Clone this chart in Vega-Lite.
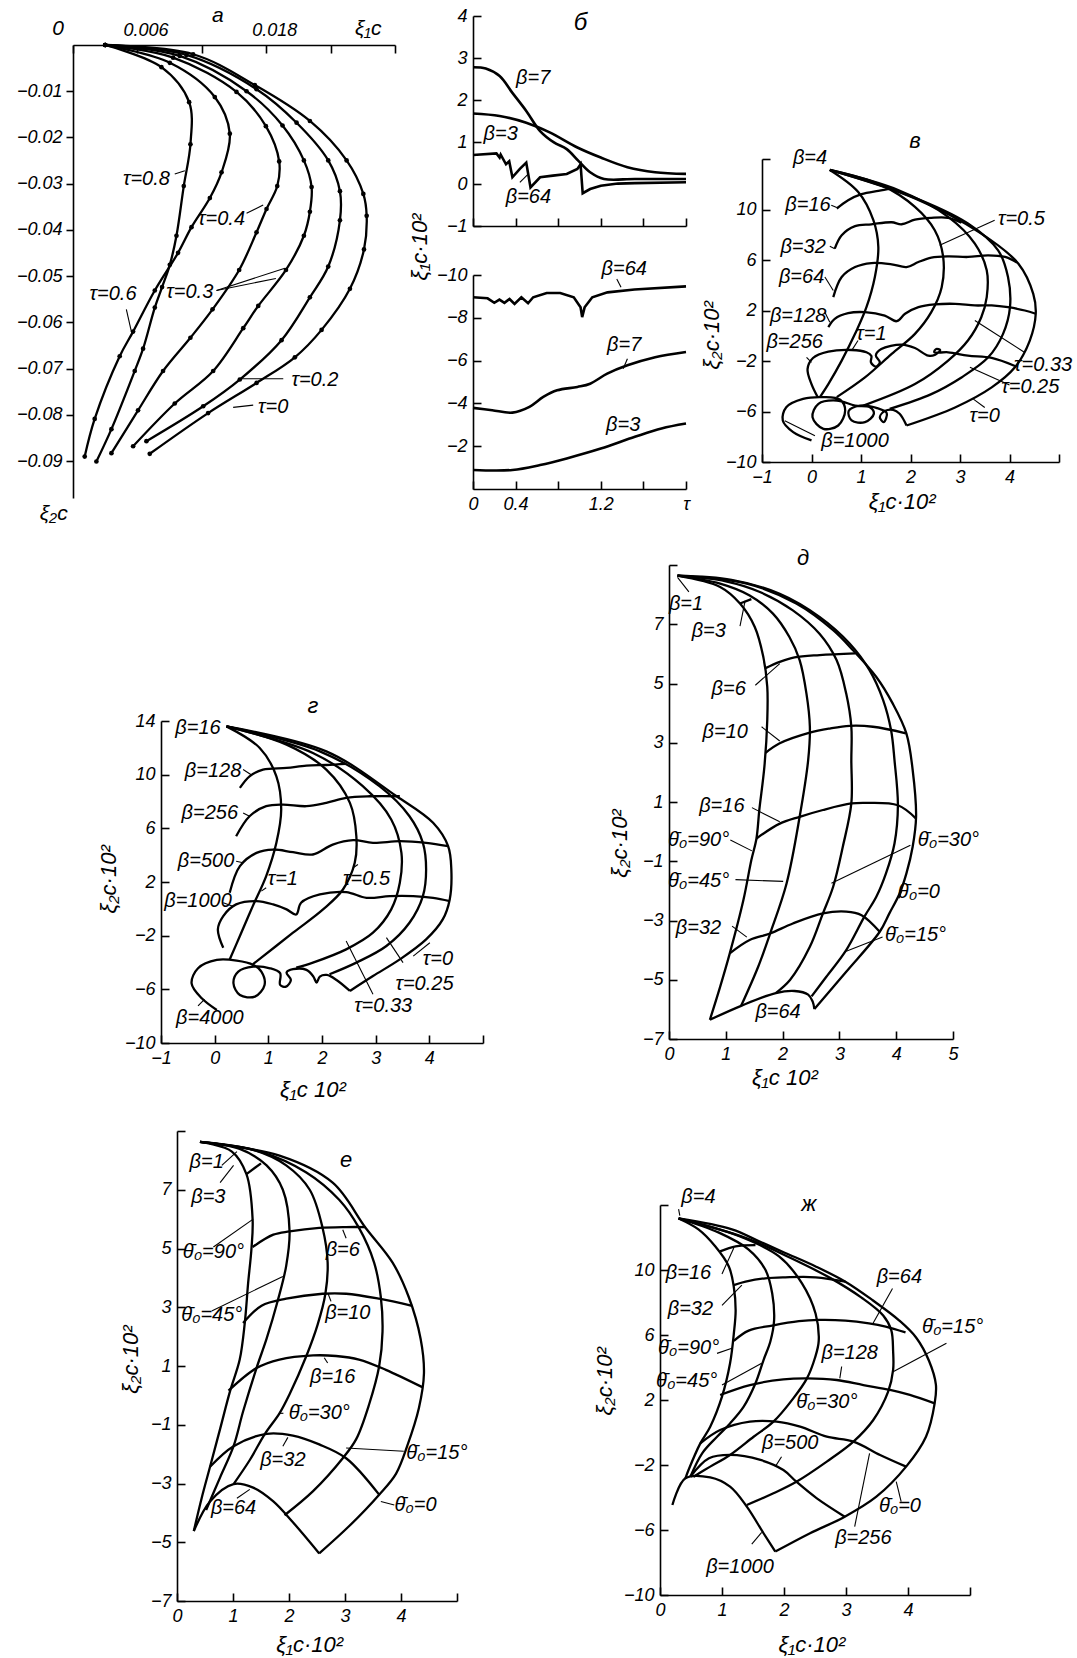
{
"$schema":"https://vega.github.io/schema/vega-lite/v6.json",
"background":"white",
"width":1077,"height":1658,
"autosize":{"type":"none"},
"padding":0,
"config":{
 "view":{"stroke":null},
 "axis":{"domainColor":"#000","domainWidth":1.6,"tickColor":"#000","tickWidth":1.6,"tickSize":-8,"labelColor":"#000","labelFont":"Liberation Sans","labelFontStyle":"italic","labelFontSize":18,"labelPadding":14,"grid":false,"labelOverlap":false,"labelFlush":false,"labelBound":false},
 "line":{"color":"#000","strokeWidth":2.3,"interpolate":"catmull-rom"},
 "rule":{"color":"#000","strokeWidth":1.1},
 "text":{"font":"Liberation Sans","fontStyle":"italic","fontSize":20,"color":"#000"},
 "circle":{"color":"#000","opacity":1,"size":22}
},
"datasets":{
"a":[
{"s":"t08","x":0.003,"y":0},{"s":"t08","x":0.00824,"y":-0.0048},{"s":"t08","x":0.01082,"y":-0.01237},{"s":"t08","x":0.01094,"y":-0.02148},{"s":"t08","x":0.01032,"y":-0.03052},{"s":"t08","x":0.00964,"y":-0.04126},{"s":"t08","x":0.00902,"y":-0.04756},{"s":"t08","x":0.0083,"y":-0.05237},{"s":"t08","x":0.00762,"y":-0.05681},{"s":"t08","x":0.00653,"y":-0.0657},{"s":"t08","x":0.00575,"y":-0.07052},{"s":"t08","x":0.00358,"y":-0.0831},{"s":"t08","x":0.00218,"y":-0.0901},
{"s":"t06","x":0.003,"y":0},{"s":"t06","x":0.00902,"y":-0.00385},{"s":"t06","x":0.01321,"y":-0.01126},{"s":"t06","x":0.01461,"y":-0.01918},{"s":"t06","x":0.01384,"y":-0.02755},{"s":"t06","x":0.01275,"y":-0.03311},{"s":"t06","x":0.01104,"y":-0.03941},{"s":"t06","x":0.00979,"y":-0.04496},{"s":"t06","x":0.00762,"y":-0.05311},{"s":"t06","x":0.0056,"y":-0.062},{"s":"t06","x":0.00435,"y":-0.06733},{"s":"t06","x":0.00202,"y":-0.08089},{"s":"t06","x":0.00109,"y":-0.08904},
{"s":"t04","x":0.003,"y":0},{"s":"t04","x":0.00933,"y":-0.00274},{"s":"t04","x":0.01523,"y":-0.01015},{"s":"t04","x":0.01797,"y":-0.01756},{"s":"t04","x":0.01921,"y":-0.02519},{"s":"t04","x":0.01903,"y":-0.03052},{"s":"t04","x":0.01803,"y":-0.03548},{"s":"t04","x":0.0171,"y":-0.04052},{"s":"t04","x":0.01548,"y":-0.04867},{"s":"t04","x":0.013,"y":-0.05719},{"s":"t04","x":0.01094,"y":-0.06333},{"s":"t04","x":0.00839,"y":-0.07052},{"s":"t04","x":0.00606,"y":-0.07904},{"s":"t04","x":0.00358,"y":-0.0883},
{"s":"t03","x":0.003,"y":0},{"s":"t03","x":0.00995,"y":-0.00237},{"s":"t03","x":0.01617,"y":-0.01},{"s":"t03","x":0.01952,"y":-0.01741},{"s":"t03","x":0.02151,"y":-0.02496},{"s":"t03","x":0.02223,"y":-0.03074},{"s":"t03","x":0.02207,"y":-0.03607},{"s":"t03","x":0.02151,"y":-0.04126},{"s":"t03","x":0.01984,"y":-0.04867},{"s":"t03","x":0.01726,"y":-0.05644},{"s":"t03","x":0.01586,"y":-0.06126},{"s":"t03","x":0.01306,"y":-0.07052},{"s":"t03","x":0.00948,"y":-0.07756},{"s":"t03","x":0.0056,"y":-0.08681},
{"s":"t02","x":0.003,"y":0},{"s":"t02","x":0.01057,"y":-0.00215},{"s":"t02","x":0.0171,"y":-0.00956},{"s":"t02","x":0.02083,"y":-0.01681},{"s":"t02","x":0.02378,"y":-0.02496},{"s":"t02","x":0.02487,"y":-0.03163},{"s":"t02","x":0.02487,"y":-0.03793},{"s":"t02","x":0.02378,"y":-0.04793},{"s":"t02","x":0.02207,"y":-0.05459},{"s":"t02","x":0.01943,"y":-0.06385},{"s":"t02","x":0.01554,"y":-0.07237},{"s":"t02","x":0.01213,"y":-0.07815},{"s":"t02","x":0.00684,"y":-0.0857},
{"s":"t0","x":0.003,"y":0},{"s":"t0","x":0.01119,"y":-0.002},{"s":"t0","x":0.01694,"y":-0.00867},{"s":"t0","x":0.02207,"y":-0.01644},{"s":"t0","x":0.02549,"y":-0.02496},{"s":"t0","x":0.02705,"y":-0.03222},{"s":"t0","x":0.02736,"y":-0.03696},{"s":"t0","x":0.02711,"y":-0.04422},{"s":"t0","x":0.0258,"y":-0.05274},{"s":"t0","x":0.02316,"y":-0.06163},{"s":"t0","x":0.02067,"y":-0.06756},{"s":"t0","x":0.0171,"y":-0.07311},{"s":"t0","x":0.01259,"y":-0.07963},{"s":"t0","x":0.00715,"y":-0.08844}
],
"bt":[
{"s":"b7","x":0,"y":2.78},{"s":"b7","x":0.12,"y":2.75},{"s":"b7","x":0.25,"y":2.57},{"s":"b7","x":0.37,"y":2.17},{"s":"b7","x":0.5,"y":1.74},{"s":"b7","x":0.63,"y":1.26},{"s":"b7","x":0.76,"y":0.99},{"s":"b7","x":0.88,"y":0.83},{"s":"b7","x":0.99,"y":0.55},{"s":"b7","x":1.1,"y":0.28},{"s":"b7","x":1.23,"y":0.12},{"s":"b7","x":1.52,"y":0.12},{"s":"b7","x":2,"y":0.12},
{"s":"b3","x":0,"y":1.68},{"s":"b3","x":0.25,"y":1.62},{"s":"b3","x":0.5,"y":1.46},{"s":"b3","x":0.72,"y":1.23},{"s":"b3","x":0.98,"y":0.87},{"s":"b3","x":1.2,"y":0.63},{"s":"b3","x":1.45,"y":0.4},{"s":"b3","x":1.71,"y":0.28},{"s":"b3","x":2,"y":0.24},
{"s":"b64","x":0,"y":0.69},{"s":"b64","x":0.22,"y":0.73},{"s":"b64","x":0.25,"y":0.63},{"s":"b64","x":0.26,"y":0.7},{"s":"b64","x":0.31,"y":0.47},{"s":"b64","x":0.34,"y":0.54},{"s":"b64","x":0.37,"y":0.16},{"s":"b64","x":0.44,"y":0.36},{"s":"b64","x":0.5,"y":0.51},{"s":"b64","x":0.54,"y":-0.08},{"s":"b64","x":0.63,"y":0.16},{"s":"b64","x":0.75,"y":0.2},{"s":"b64","x":0.88,"y":0.24},{"s":"b64","x":0.98,"y":0.36},{"s":"b64","x":1.01,"y":0.47},{"s":"b64","x":1.03,"y":-0.22},{"s":"b64","x":1.1,"y":-0.12},{"s":"b64","x":1.2,"y":-0.04},{"s":"b64","x":1.36,"y":0.01},{"s":"b64","x":1.52,"y":0.02},{"s":"b64","x":2,"y":0.04}
],
"bb":[
{"s":"g64","x":0,"y":-8.96},{"s":"g64","x":0.137,"y":-8.91},{"s":"g64","x":0.2,"y":-8.7},{"s":"g64","x":0.248,"y":-8.85},{"s":"g64","x":0.295,"y":-8.7},{"s":"g64","x":0.343,"y":-8.88},{"s":"g64","x":0.39,"y":-8.65},{"s":"g64","x":0.454,"y":-8.96},{"s":"g64","x":0.517,"y":-8.68},{"s":"g64","x":0.565,"y":-8.96},{"s":"g64","x":0.692,"y":-9.16},{"s":"g64","x":0.819,"y":-9.16},{"s":"g64","x":0.946,"y":-8.96},{"s":"g64","x":1.01,"y":-8.49},{"s":"g64","x":1.025,"y":-8.03},{"s":"g64","x":1.048,"y":-8.49},{"s":"g64","x":1.12,"y":-8.96},{"s":"g64","x":1.263,"y":-9.19},{"s":"g64","x":1.517,"y":-9.32},{"s":"g64","x":2,"y":-9.47},
{"s":"g7","x":0,"y":-3.79},{"s":"g7","x":0.18,"y":-3.68},{"s":"g7","x":0.37,"y":-3.57},{"s":"g7","x":0.53,"y":-3.84},{"s":"g7","x":0.66,"y":-4.3},{"s":"g7","x":0.79,"y":-4.61},{"s":"g7","x":0.98,"y":-4.77},{"s":"g7","x":1.1,"y":-4.92},{"s":"g7","x":1.26,"y":-5.39},{"s":"g7","x":1.45,"y":-5.78},{"s":"g7","x":1.71,"y":-6.16},{"s":"g7","x":2,"y":-6.4},
{"s":"g3","x":0,"y":-0.89},{"s":"g3","x":0.37,"y":-0.89},{"s":"g3","x":0.63,"y":-1.12},{"s":"g3","x":0.88,"y":-1.43},{"s":"g3","x":1.2,"y":-1.89},{"s":"g3","x":1.52,"y":-2.44},{"s":"g3","x":1.77,"y":-2.83},{"s":"g3","x":2,"y":-3.06}
],
"v":[
{"s":"t1","x":0.37,"y":13.13},{"s":"t1","x":0.94,"y":11.4},{"s":"t1","x":1.25,"y":9.15},{"s":"t1","x":1.35,"y":7.03},{"s":"t1","x":1.28,"y":4.65},{"s":"t1","x":1.11,"y":2.26},{"s":"t1","x":0.88,"y":0.15},{"s":"t1","x":0.61,"y":-1.97},{"s":"t1","x":0.34,"y":-3.83},{"s":"t1","x":0.17,"y":-4.86},
{"s":"t05","x":0.37,"y":13.13},{"s":"t05","x":1.41,"y":11.93},{"s":"t05","x":2.09,"y":10.21},{"s":"t05","x":2.49,"y":8.36},{"s":"t05","x":2.66,"y":6.24},{"s":"t05","x":2.63,"y":3.85},{"s":"t05","x":2.42,"y":1.87},{"s":"t05","x":2.09,"y":0.15},{"s":"t05","x":1.62,"y":-1.44},{"s":"t05","x":1.08,"y":-3.3},{"s":"t05","x":0.51,"y":-4.86},
{"s":"t033","x":0.37,"y":13.13},{"s":"t033","x":1.75,"y":11.54},{"s":"t033","x":2.76,"y":9.42},{"s":"t033","x":3.3,"y":7.3},{"s":"t033","x":3.54,"y":5.18},{"s":"t033","x":3.54,"y":3.06},{"s":"t033","x":3.43,"y":1.47},{"s":"t033","x":3.16,"y":-0.38},{"s":"t033","x":2.76,"y":-1.97},{"s":"t033","x":2.09,"y":-3.83},{"s":"t033","x":1.05,"y":-5.53},
{"s":"t025","x":0.37,"y":13.13},{"s":"t025","x":1.95,"y":11.14},{"s":"t025","x":3.16,"y":8.89},{"s":"t025","x":3.77,"y":6.77},{"s":"t025","x":3.97,"y":4.65},{"s":"t025","x":4.01,"y":2.26},{"s":"t025","x":3.87,"y":0.15},{"s":"t025","x":3.57,"y":-1.71},{"s":"t025","x":3.03,"y":-3.3},{"s":"t025","x":2.42,"y":-4.62},{"s":"t025","x":1.58,"y":-5.79},
{"s":"t0","x":0.37,"y":13.13},{"s":"t0","x":2.09,"y":10.87},{"s":"t0","x":3.43,"y":8.09},{"s":"t0","x":4.18,"y":5.71},{"s":"t0","x":4.48,"y":3.32},{"s":"t0","x":4.53,"y":1.74},{"s":"t0","x":4.41,"y":-0.38},{"s":"t0","x":4.11,"y":-2.5},{"s":"t0","x":3.64,"y":-4.09},{"s":"t0","x":2.9,"y":-5.68},{"s":"t0","x":1.92,"y":-7.11},
{"s":"b16","x":0.51,"y":10.08},{"s":"b16","x":0.74,"y":10.74},{"s":"b16","x":1.01,"y":11.22},{"s":"b16","x":1.35,"y":11.48},{"s":"b16","x":1.62,"y":11.65},
{"s":"b32","x":0.47,"y":6.9},{"s":"b32","x":0.61,"y":7.96},{"s":"b32","x":0.88,"y":8.68},{"s":"b32","x":1.21,"y":8.83},{"s":"b32","x":1.62,"y":8.99},{"s":"b32","x":1.82,"y":8.83},{"s":"b32","x":2.09,"y":9.2},{"s":"b32","x":2.42,"y":9.34},{"s":"b32","x":2.76,"y":9.34},{"s":"b32","x":3.03,"y":8.95},
{"s":"b64","x":0.44,"y":3.06},{"s":"b64","x":0.61,"y":4.65},{"s":"b64","x":0.88,"y":5.44},{"s":"b64","x":1.21,"y":5.76},{"s":"b64","x":1.62,"y":5.66},{"s":"b64","x":1.92,"y":5.44},{"s":"b64","x":2.16,"y":5.84},{"s":"b64","x":2.42,"y":6.19},{"s":"b64","x":2.76,"y":6.29},{"s":"b64","x":3.16,"y":6.24},{"s":"b64","x":3.57,"y":6.37},{"s":"b64","x":3.91,"y":6.24},{"s":"b64","x":4.15,"y":5.8},
{"s":"b128","x":0.34,"y":0.68},{"s":"b128","x":0.47,"y":1.34},{"s":"b128","x":0.74,"y":1.79},{"s":"b128","x":1.08,"y":1.87},{"s":"b128","x":1.48,"y":1.6},{"s":"b128","x":1.72,"y":1.15},{"s":"b128","x":1.89,"y":1.74},{"s":"b128","x":2.16,"y":2.26},{"s":"b128","x":2.49,"y":2.48},{"s":"b128","x":2.9,"y":2.53},{"s":"b128","x":3.3,"y":2.4},{"s":"b128","x":3.64,"y":2.4},{"s":"b128","x":3.97,"y":2.26},{"s":"b128","x":4.31,"y":2},{"s":"b128","x":4.53,"y":1.74},
{"s":"b256","x":0.13,"y":-4.89},{"s":"b256","x":0,"y":-3.83},{"s":"b256","x":-0.08,"y":-2.64},{"s":"b256","x":0.03,"y":-1.76},{"s":"b256","x":0.34,"y":-1.26},{"s":"b256","x":0.81,"y":-1.13},{"s":"b256","x":1.11,"y":-1.31},{"s":"b256","x":1.21,"y":-1.6},{"s":"b256","x":1.2,"y":-2.1},{"s":"b256","x":1.3,"y":-2.45},{"s":"b256","x":1.38,"y":-2.1},{"s":"b256","x":1.3,"y":-1.55},{"s":"b256","x":1.41,"y":-1.05},{"s":"b256","x":1.82,"y":-0.7},{"s":"b256","x":2.09,"y":-0.97},{"s":"b256","x":2.36,"y":-1.58},{"s":"b256","x":2.5,"y":-1.5},{"s":"b256","x":2.6,"y":-1.15},{"s":"b256","x":2.52,"y":-1.05},{"s":"b256","x":2.48,"y":-1.3},{"s":"b256","x":2.76,"y":-1.31},{"s":"b256","x":3.16,"y":-1.58},{"s":"b256","x":3.64,"y":-1.76},{"s":"b256","x":4.11,"y":-2.4},
{"s":"b1000","x":0,"y":-8.29},{"s":"b1000","x":-0.37,"y":-7.63},{"s":"b1000","x":-0.58,"y":-6.71},{"s":"b1000","x":-0.51,"y":-5.66},{"s":"b1000","x":-0.17,"y":-5},{"s":"b1000","x":0.24,"y":-4.86},{"s":"b1000","x":0.58,"y":-5.07},{"s":"b1000","x":0.68,"y":-5.92},{"s":"b1000","x":0.54,"y":-7.11},{"s":"b1000","x":0.24,"y":-7.37},{"s":"b1000","x":0.02,"y":-6.45},{"s":"b1000","x":0.14,"y":-5.39},{"s":"b1000","x":0.51,"y":-5.13},{"s":"b1000","x":0.88,"y":-5.53},{"s":"b1000","x":1.18,"y":-5.66},{"s":"b1000","x":1.26,"y":-6.18},{"s":"b1000","x":1.08,"y":-6.84},{"s":"b1000","x":0.81,"y":-6.71},{"s":"b1000","x":0.75,"y":-5.97},{"s":"b1000","x":0.98,"y":-5.53},{"s":"b1000","x":1.31,"y":-5.71},{"s":"b1000","x":1.52,"y":-6.13},{"s":"b1000","x":1.46,"y":-6.84},{"s":"b1000","x":1.38,"y":-6.45},{"s":"b1000","x":1.48,"y":-5.97},{"s":"b1000","x":1.65,"y":-5.87},{"s":"b1000","x":1.78,"y":-6.18},{"s":"b1000","x":1.92,"y":-7.11}
],
"g":[
{"s":"t1","x":0.22,"y":13.6},{"s":"t1","x":0.84,"y":11.99},{"s":"t1","x":1.15,"y":9.88},{"s":"t1","x":1.24,"y":7.4},{"s":"t1","x":1.15,"y":4.92},{"s":"t1","x":0.96,"y":2.44},{"s":"t1","x":0.71,"y":0.2},{"s":"t1","x":0.47,"y":-2.03},{"s":"t1","x":0.28,"y":-3.77},
{"s":"t05","x":0.22,"y":13.6},{"s":"t05","x":1.34,"y":12.24},{"s":"t05","x":2.08,"y":10.38},{"s":"t05","x":2.52,"y":7.9},{"s":"t05","x":2.64,"y":5.41},{"s":"t05","x":2.61,"y":3.43},{"s":"t05","x":2.39,"y":1.44},{"s":"t05","x":2.02,"y":-0.04},{"s":"t05","x":1.46,"y":-1.78},{"s":"t05","x":0.71,"y":-4.14},
{"s":"t033","x":0.22,"y":13.6},{"s":"t033","x":1.83,"y":11.62},{"s":"t033","x":2.76,"y":9.14},{"s":"t033","x":3.29,"y":6.66},{"s":"t033","x":3.48,"y":4.17},{"s":"t033","x":3.45,"y":1.94},{"s":"t033","x":3.29,"y":-0.04},{"s":"t033","x":2.95,"y":-1.78},{"s":"t033","x":2.45,"y":-3.02},{"s":"t033","x":1.83,"y":-4.01},{"s":"t033","x":1.52,"y":-4.39},
{"s":"t025","x":0.22,"y":13.6},{"s":"t025","x":1.96,"y":11.74},{"s":"t025","x":3.07,"y":9.14},{"s":"t025","x":3.63,"y":6.9},{"s":"t025","x":3.88,"y":4.92},{"s":"t025","x":3.94,"y":2.93},{"s":"t025","x":3.88,"y":0.95},{"s":"t025","x":3.63,"y":-1.04},{"s":"t025","x":3.2,"y":-2.77},{"s":"t025","x":2.64,"y":-4.01},{"s":"t025","x":2.14,"y":-4.88},
{"s":"t0","x":0.22,"y":13.6},{"s":"t0","x":2.08,"y":11.74},{"s":"t0","x":3.39,"y":8.39},{"s":"t0","x":4.07,"y":6.41},{"s":"t0","x":4.35,"y":4.67},{"s":"t0","x":4.41,"y":2.93},{"s":"t0","x":4.38,"y":0.7},{"s":"t0","x":4.25,"y":-0.79},{"s":"t0","x":3.94,"y":-2.28},{"s":"t0","x":3.45,"y":-3.77},{"s":"t0","x":2.95,"y":-5.01},{"s":"t0","x":2.52,"y":-6.12},
{"s":"b128","x":0.47,"y":9.01},{"s":"b128","x":0.65,"y":9.88},{"s":"b128","x":0.9,"y":10.38},{"s":"b128","x":1.34,"y":10.5},{"s":"b128","x":1.71,"y":10.68},{"s":"b128","x":2.08,"y":10.72},{"s":"b128","x":2.45,"y":10.8},
{"s":"b256","x":0.4,"y":5.41},{"s":"b256","x":0.65,"y":6.9},{"s":"b256","x":0.96,"y":7.65},{"s":"b256","x":1.27,"y":7.77},{"s":"b256","x":1.71,"y":7.65},{"s":"b256","x":2.08,"y":7.9},{"s":"b256","x":2.45,"y":8.27},{"s":"b256","x":2.89,"y":8.39},{"s":"b256","x":3.45,"y":8.39},
{"s":"b500","x":0.28,"y":1.2},{"s":"b500","x":0.47,"y":3.18},{"s":"b500","x":0.78,"y":4.17},{"s":"b500","x":1.09,"y":4.42},{"s":"b500","x":1.46,"y":4.22},{"s":"b500","x":1.83,"y":4.05},{"s":"b500","x":2.2,"y":4.79},{"s":"b500","x":2.58,"y":5.12},{"s":"b500","x":2.95,"y":4.92},{"s":"b500","x":3.45,"y":5.04},{"s":"b500","x":3.94,"y":4.92},{"s":"b500","x":4.35,"y":4.67},
{"s":"b1000","x":0.16,"y":-2.9},{"s":"b1000","x":0.06,"y":-1.53},{"s":"b1000","x":0.16,"y":-0.54},{"s":"b1000","x":0.4,"y":0.33},{"s":"b1000","x":0.78,"y":0.58},{"s":"b1000","x":1.09,"y":0.33},{"s":"b1000","x":1.34,"y":-0.04},{"s":"b1000","x":1.52,"y":-0.42},{"s":"b1000","x":1.61,"y":0.45},{"s":"b1000","x":1.96,"y":1.07},{"s":"b1000","x":2.45,"y":1.25},{"s":"b1000","x":2.83,"y":0.82},{"s":"b1000","x":3.26,"y":0.95},{"s":"b1000","x":3.7,"y":0.95},{"s":"b1000","x":4.07,"y":0.82},{"s":"b1000","x":4.38,"y":0.58},
{"s":"b4000","x":0.04,"y":-7.54},{"s":"b4000","x":-0.24,"y":-6.67},{"s":"b4000","x":-0.43,"y":-5.55},{"s":"b4000","x":-0.31,"y":-4.43},{"s":"b4000","x":0.04,"y":-3.81},{"s":"b4000","x":0.41,"y":-3.86},{"s":"b4000","x":0.72,"y":-4.18},{"s":"b4000","x":0.87,"y":-4.68},{"s":"b4000","x":0.93,"y":-5.67},{"s":"b4000","x":0.75,"y":-6.54},{"s":"b4000","x":0.47,"y":-6.42},{"s":"b4000","x":0.35,"y":-5.55},{"s":"b4000","x":0.44,"y":-4.68},{"s":"b4000","x":0.72,"y":-4.31},{"s":"b4000","x":1.03,"y":-4.43},{"s":"b4000","x":1.22,"y":-4.8},{"s":"b4000","x":1.22,"y":-5.67},{"s":"b4000","x":1.33,"y":-5.8},{"s":"b4000","x":1.42,"y":-5.3},{"s":"b4000","x":1.34,"y":-4.75},{"s":"b4000","x":1.46,"y":-4.5},{"s":"b4000","x":1.71,"y":-4.55},{"s":"b4000","x":1.84,"y":-5.05},{"s":"b4000","x":1.9,"y":-5.5},{"s":"b4000","x":1.96,"y":-5.05},{"s":"b4000","x":2.09,"y":-4.93},{"s":"b4000","x":2.27,"y":-5.3},{"s":"b4000","x":2.52,"y":-6.12}
],
"d":[
{"s":"q90","x":0.15,"y":8.64},{"s":"q90","x":0.9,"y":8.26},{"s":"q90","x":1.25,"y":7.7},{"s":"q90","x":1.51,"y":6.91},{"s":"q90","x":1.66,"y":5.9},{"s":"q90","x":1.73,"y":4.89},{"s":"q90","x":1.73,"y":3.76},{"s":"q90","x":1.68,"y":2.2},{"s":"q90","x":1.59,"y":0.73},{"s":"q90","x":1.54,"y":-0.23},{"s":"q90","x":1.45,"y":-0.96},{"s":"q90","x":1.31,"y":-2.31},{"s":"q90","x":1.07,"y":-4.11},{"s":"q90","x":0.9,"y":-5.24},{"s":"q90","x":0.72,"y":-6.35},
{"s":"q45","x":0.15,"y":8.64},{"s":"q45","x":0.9,"y":8.37},{"s":"q45","x":1.42,"y":7.97},{"s":"q45","x":1.83,"y":7.36},{"s":"q45","x":2.12,"y":6.57},{"s":"q45","x":2.3,"y":5.79},{"s":"q45","x":2.42,"y":4.66},{"s":"q45","x":2.48,"y":3.54},{"s":"q45","x":2.45,"y":2.41},{"s":"q45","x":2.3,"y":0.5},{"s":"q45","x":2.07,"y":-1.75},{"s":"q45","x":1.78,"y":-3.44},{"s":"q45","x":1.57,"y":-4.56},{"s":"q45","x":1.27,"y":-5.88},
{"s":"q30","x":0.15,"y":8.64},{"s":"q30","x":1,"y":8.45},{"s":"q30","x":1.6,"y":8.09},{"s":"q30","x":2.18,"y":7.47},{"s":"q30","x":2.65,"y":6.68},{"s":"q30","x":2.95,"y":5.79},{"s":"q30","x":3.12,"y":4.66},{"s":"q30","x":3.21,"y":3.54},{"s":"q30","x":3.21,"y":2.41},{"s":"q30","x":3.21,"y":0.95},{"s":"q30","x":3.06,"y":-0.51},{"s":"q30","x":2.89,"y":-1.86},{"s":"q30","x":2.71,"y":-2.76},{"s":"q30","x":2.48,"y":-3.89},{"s":"q30","x":2.13,"y":-5.01},{"s":"q30","x":1.88,"y":-5.45},
{"s":"q15","x":0.15,"y":8.64},{"s":"q15","x":1.1,"y":8.5},{"s":"q15","x":1.95,"y":8.03},{"s":"q15","x":2.65,"y":7.25},{"s":"q15","x":3.18,"y":6.35},{"s":"q15","x":3.53,"y":5.45},{"s":"q15","x":3.77,"y":4.44},{"s":"q15","x":3.91,"y":3.42},{"s":"q15","x":3.97,"y":2.41},{"s":"q15","x":4.03,"y":0.89},{"s":"q15","x":3.97,"y":-0.4},{"s":"q15","x":3.82,"y":-1.41},{"s":"q15","x":3.65,"y":-2.2},{"s":"q15","x":3.44,"y":-2.87},{"s":"q15","x":3.12,"y":-4},{"s":"q15","x":2.77,"y":-4.9},{"s":"q15","x":2.51,"y":-5.56},
{"s":"q0","x":0.15,"y":8.64},{"s":"q0","x":1.37,"y":8.37},{"s":"q0","x":2.24,"y":7.7},{"s":"q0","x":2.89,"y":6.8},{"s":"q0","x":3.24,"y":6.12},{"s":"q0","x":3.65,"y":5.22},{"s":"q0","x":3.94,"y":4.32},{"s":"q0","x":4.18,"y":3.31},{"s":"q0","x":4.29,"y":2.08},{"s":"q0","x":4.35,"y":0.5},{"s":"q0","x":4.29,"y":-0.51},{"s":"q0","x":4.18,"y":-1.41},{"s":"q0","x":4.06,"y":-2.09},{"s":"q0","x":3.88,"y":-2.76},{"s":"q0","x":3.71,"y":-3.38},{"s":"q0","x":3.12,"y":-4.73},{"s":"q0","x":2.56,"y":-5.99},
{"s":"b3","x":1.25,"y":7.7},{"s":"b3","x":1.45,"y":7.85},
{"s":"b6","x":1.69,"y":5.51},{"s":"b6","x":1.95,"y":5.73},{"s":"b6","x":2.21,"y":5.88},{"s":"b6","x":2.65,"y":5.96},{"s":"b6","x":3.28,"y":6.02},
{"s":"b10","x":1.7,"y":2.66},{"s":"b10","x":1.95,"y":2.98},{"s":"b10","x":2.48,"y":3.34},{"s":"b10","x":2.83,"y":3.48},{"s":"b10","x":3.18,"y":3.57},{"s":"b10","x":3.59,"y":3.54},{"s":"b10","x":4.17,"y":3.32},
{"s":"b16","x":1.54,"y":-0.23},{"s":"b16","x":1.95,"y":0.27},{"s":"b16","x":2.3,"y":0.5},{"s":"b16","x":2.71,"y":0.73},{"s":"b16","x":3.21,"y":0.95},{"s":"b16","x":3.47,"y":0.97},{"s":"b16","x":4.03,"y":0.89},{"s":"b16","x":4.35,"y":0.44},
{"s":"b32","x":1.07,"y":-4.11},{"s":"b32","x":1.42,"y":-3.66},{"s":"b32","x":1.78,"y":-3.44},{"s":"b32","x":2.18,"y":-3.1},{"s":"b32","x":2.71,"y":-2.76},{"s":"b32","x":3.12,"y":-2.7},{"s":"b32","x":3.39,"y":-2.82},{"s":"b32","x":3.71,"y":-3.38},
{"s":"b64","x":0.72,"y":-6.35},{"s":"b64","x":1.27,"y":-5.88},{"s":"b64","x":1.88,"y":-5.45},{"s":"b64","x":2.21,"y":-5.38},{"s":"b64","x":2.45,"y":-5.5},{"s":"b64","x":2.53,"y":-5.74},{"s":"b64","x":2.56,"y":-5.99}
],
"e":[
{"s":"q90","x":0.41,"y":8.63},{"s":"q90","x":0.98,"y":8.3},{"s":"q90","x":1.24,"y":7.53},{"s":"q90","x":1.35,"y":6},{"s":"q90","x":1.33,"y":5},{"s":"q90","x":1.27,"y":3.82},{"s":"q90","x":1.21,"y":2.46},{"s":"q90","x":1.12,"y":1.22},{"s":"q90","x":0.95,"y":0.16},{"s":"q90","x":0.77,"y":-1.14},{"s":"q90","x":0.59,"y":-2.43},{"s":"q90","x":0.44,"y":-3.5},{"s":"q90","x":0.3,"y":-4.62},
{"s":"q45","x":0.41,"y":8.63},{"s":"q45","x":1.12,"y":8.39},{"s":"q45","x":1.6,"y":7.83},{"s":"q45","x":1.89,"y":7},{"s":"q45","x":2.01,"y":5.58},{"s":"q45","x":1.95,"y":4.41},{"s":"q45","x":1.8,"y":3.23},{"s":"q45","x":1.6,"y":1.93},{"s":"q45","x":1.42,"y":0.93},{"s":"q45","x":1.18,"y":-0.55},{"s":"q45","x":1.01,"y":-1.73},{"s":"q45","x":0.77,"y":-2.79},{"s":"q45","x":0.52,"y":-3.9},
{"s":"q30","x":0.41,"y":8.63},{"s":"q30","x":1.36,"y":8.36},{"s":"q30","x":1.95,"y":7.83},{"s":"q30","x":2.37,"y":7},{"s":"q30","x":2.6,"y":5.7},{"s":"q30","x":2.69,"y":4.52},{"s":"q30","x":2.65,"y":3.46},{"s":"q30","x":2.51,"y":2.4},{"s":"q30","x":2.31,"y":1.34},{"s":"q30","x":2.01,"y":0.04},{"s":"q30","x":1.83,"y":-0.61},{"s":"q30","x":1.57,"y":-1.31},{"s":"q30","x":1.3,"y":-2.2},{"s":"q30","x":1.01,"y":-3.02},
{"s":"q15","x":0.41,"y":8.63},{"s":"q15","x":1.48,"y":8.3},{"s":"q15","x":2.31,"y":7.59},{"s":"q15","x":2.9,"y":6.65},{"s":"q15","x":3.25,"y":5.7},{"s":"q15","x":3.52,"y":4.52},{"s":"q15","x":3.64,"y":3.34},{"s":"q15","x":3.67,"y":2.17},{"s":"q15","x":3.61,"y":0.99},{"s":"q15","x":3.43,"y":-0.31},{"s":"q15","x":3.2,"y":-1.49},{"s":"q15","x":2.96,"y":-2.14},{"s":"q15","x":2.43,"y":-3.26},{"s":"q15","x":1.92,"y":-4.08},
{"s":"q0","x":0.41,"y":8.63},{"s":"q0","x":1.83,"y":8.16},{"s":"q0","x":2.78,"y":7.24},{"s":"q0","x":3.37,"y":5.7},{"s":"q0","x":3.85,"y":4.52},{"s":"q0","x":4.14,"y":3.34},{"s":"q0","x":4.35,"y":1.93},{"s":"q0","x":4.41,"y":0.75},{"s":"q0","x":4.32,"y":-0.43},{"s":"q0","x":4.11,"y":-1.73},{"s":"q0","x":3.91,"y":-2.67},{"s":"q0","x":3.61,"y":-3.38},{"s":"q0","x":3.08,"y":-4.44},{"s":"q0","x":2.54,"y":-5.38},
{"s":"b3","x":1.24,"y":7.53},{"s":"b3","x":1.5,"y":7.9},
{"s":"b6","x":1.35,"y":5.05},{"s":"b6","x":1.72,"y":5.47},{"s":"b6","x":2.01,"y":5.58},{"s":"b6","x":2.54,"y":5.7},{"s":"b6","x":3.02,"y":5.73},{"s":"b6","x":3.37,"y":5.73},
{"s":"b10","x":1.18,"y":2.46},{"s":"b10","x":1.51,"y":3.05},{"s":"b10","x":1.95,"y":3.29},{"s":"b10","x":2.6,"y":3.46},{"s":"b10","x":3.02,"y":3.46},{"s":"b10","x":3.61,"y":3.29},{"s":"b10","x":4.2,"y":3.05},
{"s":"b16","x":0.92,"y":0.16},{"s":"b16","x":1.42,"y":0.93},{"s":"b16","x":1.83,"y":1.22},{"s":"b16","x":2.43,"y":1.36},{"s":"b16","x":2.84,"y":1.34},{"s":"b16","x":3.25,"y":1.22},{"s":"b16","x":3.73,"y":0.87},{"s":"b16","x":4.38,"y":0.28},
{"s":"b32","x":0.59,"y":-2.43},{"s":"b32","x":1.01,"y":-1.73},{"s":"b32","x":1.6,"y":-1.31},{"s":"b32","x":2.07,"y":-1.37},{"s":"b32","x":2.54,"y":-1.67},{"s":"b32","x":3.02,"y":-2.14},{"s":"b32","x":3.61,"y":-3.38},
{"s":"b64","x":0.3,"y":-4.62},{"s":"b64","x":0.59,"y":-3.61},{"s":"b64","x":1.01,"y":-3.02},{"s":"b64","x":1.36,"y":-3.14},{"s":"b64","x":1.72,"y":-3.61},{"s":"b64","x":2.07,"y":-4.32},{"s":"b64","x":2.54,"y":-5.38}
],
"zh":[
{"s":"q90","x":0.3,"y":13.17},{"s":"q90","x":0.62,"y":12.5},{"s":"q90","x":0.89,"y":11.46},{"s":"q90","x":1.11,"y":10.22},{"s":"q90","x":1.19,"y":8.97},{"s":"q90","x":1.22,"y":7.51},{"s":"q90","x":1.19,"y":6.06},{"s":"q90","x":1.13,"y":4.26},{"s":"q90","x":1,"y":2.21},{"s":"q90","x":0.81,"y":0.36},{"s":"q90","x":0.65,"y":-0.67},{"s":"q90","x":0.46,"y":-2.31},{"s":"q90","x":0.41,"y":-2.82},
{"s":"q45","x":0.3,"y":13.17},{"s":"q45","x":0.95,"y":12.3},{"s":"q45","x":1.43,"y":11.26},{"s":"q45","x":1.7,"y":10.01},{"s":"q45","x":1.81,"y":8.55},{"s":"q45","x":1.84,"y":6.89},{"s":"q45","x":1.78,"y":5.6},{"s":"q45","x":1.67,"y":4.46},{"s":"q45","x":1.54,"y":3.03},{"s":"q45","x":1.35,"y":1.59},{"s":"q45","x":1.13,"y":0.56},{"s":"q45","x":0.92,"y":-0.26},{"s":"q45","x":0.68,"y":-1.28},{"s":"q45","x":0.49,"y":-2.72},
{"s":"q30","x":0.3,"y":13.17},{"s":"q30","x":1.27,"y":12.09},{"s":"q30","x":1.92,"y":10.84},{"s":"q30","x":2.29,"y":9.18},{"s":"q30","x":2.51,"y":7.31},{"s":"q30","x":2.56,"y":5.64},{"s":"q30","x":2.5,"y":4.6},{"s":"q30","x":2.37,"y":3.33},{"s":"q30","x":2.15,"y":2.1},{"s":"q30","x":1.83,"y":0.67},{"s":"q30","x":1.51,"y":-0.26},{"s":"q30","x":1.13,"y":-1.38},{"s":"q30","x":0.81,"y":-2.1},{"s":"q30","x":0.54,"y":-2.72},
{"s":"q15","x":0.3,"y":13.17},{"s":"q15","x":1.4,"y":11.95},{"s":"q15","x":2.1,"y":10.75},{"s":"q15","x":2.75,"y":9.5},{"s":"q15","x":3.25,"y":8.3},{"s":"q15","x":3.6,"y":7.2},{"s":"q15","x":3.73,"y":6.3},{"s":"q15","x":3.76,"y":5},{"s":"q15","x":3.76,"y":3.85},{"s":"q15","x":3.68,"y":2.51},{"s":"q15","x":3.44,"y":0.77},{"s":"q15","x":3.12,"y":-0.56},{"s":"q15","x":2.69,"y":-1.79},{"s":"q15","x":2.2,"y":-3.03},{"s":"q15","x":1.83,"y":-3.74},{"s":"q15","x":1.4,"y":-4.46},
{"s":"q0","x":0.3,"y":13.17},{"s":"q0","x":1.16,"y":12.5},{"s":"q0","x":1.59,"y":11.78},{"s":"q0","x":2.02,"y":11.05},{"s":"q0","x":2.51,"y":10.22},{"s":"q0","x":2.99,"y":9.28},{"s":"q0","x":3.43,"y":8.14},{"s":"q0","x":3.86,"y":6.89},{"s":"q0","x":4.13,"y":5.85},{"s":"q0","x":4.34,"y":4.4},{"s":"q0","x":4.45,"y":2.94},{"s":"q0","x":4.43,"y":1.79},{"s":"q0","x":4.29,"y":-0.26},{"s":"q0","x":3.97,"y":-2.1},{"s":"q0","x":3.49,"y":-3.95},{"s":"q0","x":2.98,"y":-5.18},{"s":"q0","x":2.42,"y":-6.2},{"s":"q0","x":1.86,"y":-7.33},
{"s":"b16","x":0.97,"y":11.15},{"s":"b16","x":1.22,"y":11.46},{"s":"b16","x":1.54,"y":11.53},
{"s":"b32","x":1.19,"y":9.07},{"s":"b32","x":1.38,"y":9.28},{"s":"b32","x":1.7,"y":9.49},{"s":"b32","x":2.02,"y":9.55},{"s":"b32","x":2.51,"y":9.55},{"s":"b32","x":2.99,"y":9.28},
{"s":"b64","x":1.19,"y":5.64},{"s":"b64","x":1.43,"y":6.27},{"s":"b64","x":1.81,"y":6.58},{"s":"b64","x":2.24,"y":6.85},{"s":"b64","x":2.56,"y":6.93},{"s":"b64","x":2.99,"y":6.89},{"s":"b64","x":3.37,"y":6.72},{"s":"b64","x":3.64,"y":6.52},{"s":"b64","x":3.96,"y":6.16},
{"s":"b128","x":0.97,"y":2.31},{"s":"b128","x":1.45,"y":2.92},{"s":"b128","x":1.99,"y":3.27},{"s":"b128","x":2.37,"y":3.33},{"s":"b128","x":2.85,"y":3.23},{"s":"b128","x":3.28,"y":2.92},{"s":"b128","x":3.71,"y":2.62},{"s":"b128","x":4.03,"y":2.31},{"s":"b128","x":4.43,"y":1.79},
{"s":"b256","x":0.65,"y":-0.67},{"s":"b256","x":0.97,"y":0.15},{"s":"b256","x":1.45,"y":0.67},{"s":"b256","x":1.88,"y":0.67},{"s":"b256","x":2.26,"y":0.36},{"s":"b256","x":2.69,"y":-0.26},{"s":"b256","x":3.12,"y":-0.56},{"s":"b256","x":3.55,"y":-1.38},{"s":"b256","x":3.97,"y":-2.1},
{"s":"b500","x":0.49,"y":-2.72},{"s":"b500","x":0.79,"y":-1.59},{"s":"b500","x":1.13,"y":-1.38},{"s":"b500","x":1.62,"y":-1.69},{"s":"b500","x":1.99,"y":-2.31},{"s":"b500","x":2.2,"y":-3.03},{"s":"b500","x":2.53,"y":-4.05},{"s":"b500","x":2.98,"y":-5.18},
{"s":"b1000","x":0.2,"y":-4.46},{"s":"b1000","x":0.41,"y":-2.82},{"s":"b1000","x":0.81,"y":-2.76},{"s":"b1000","x":1.13,"y":-3.33},{"s":"b1000","x":1.4,"y":-4.56},{"s":"b1000","x":1.67,"y":-6.2},{"s":"b1000","x":1.86,"y":-7.33}
]
},
"resolve":{"scale":{"x":"independent","y":"independent"},"axis":{"x":"independent","y":"independent"}},
"layer":[
 {"encoding":{
   "x":{"field":"x","type":"quantitative","scale":{"domain":[0,0.03],"range":[73,395],"nice":false,"zero":false},"axis":{"orient":"top","offset":-45,"title":null,"values":[0,0.006,0.012,0.018,0.024,0.03],"labelExpr":"datum.value==0.006?'0.006':datum.value==0.018?'0.018':''","labelOffset":8}},
   "y":{"field":"y","type":"quantitative","scale":{"domain":[-0.098,0],"range":[498,45],"nice":false,"zero":false},"axis":{"orient":"left","offset":-73,"title":null,"values":[-0.09,-0.08,-0.07,-0.06,-0.05,-0.04,-0.03,-0.02,-0.01],"format":".2f","tickSize":7,"labelPadding":4}}},
  "layer":[
   {"data":{"name":"a"},"mark":"line","encoding":{"detail":{"field":"s"},"order":{"value":null}}},
   {"data":{"name":"a"},"mark":"circle"},
   {"data":{"values":[{"x":0.00948,"y":-0.0279,"x2":0.01042,"y2":-0.0272},{"x":0.01617,"y":-0.0364,"x2":0.01772,"y2":-0.0346},{"x":0.01337,"y":-0.0531,"x2":0.01974,"y2":-0.0483},{"x":0.01337,"y":-0.0531,"x2":0.0189,"y2":-0.0505},{"x":0.00497,"y":-0.0572,"x2":0.00544,"y2":-0.062},{"x":0.01959,"y":-0.0722,"x2":0.01539,"y2":-0.0722},{"x":0.01679,"y":-0.0779,"x2":0.01492,"y2":-0.0784}]},"mark":"rule","encoding":{"x2":{"field":"x2"},"y2":{"field":"y2"}}},
   {"data":{"values":[{"x":0.00684,"y":-0.029,"t":"τ=0.8"},{"x":0.01384,"y":-0.0376,"t":"τ=0.4"},{"x":0.00373,"y":-0.0539,"t":"τ=0.6"},{"x":0.01088,"y":-0.0535,"t":"τ=0.3"},{"x":0.02254,"y":-0.0724,"t":"τ=0.2"},{"x":0.01865,"y":-0.0783,"t":"τ=0"}]},"mark":"text","encoding":{"text":{"field":"t"}}},
   {"data":{"values":[{"x":0.0135,"y":0.0063,"t":"а"},{"x":-0.0014,"y":0.0035,"t":"0"},{"x":0.0275,"y":0.0035,"t":"ξ₁c"},{"x":-0.0018,"y":-0.1015,"t":"ξ₂c"}]},"mark":{"type":"text","fontSize":21},"encoding":{"text":{"field":"t"}}}
  ]},
 {"encoding":{
   "x":{"field":"x","type":"quantitative","scale":{"domain":[0,2],"range":[473,686],"nice":false,"zero":false},"axis":{"orient":"bottom","offset":-1432,"title":null,"values":[0,0.4,0.8,1.2,1.6,2],"labels":false}},
   "y":{"field":"y","type":"quantitative","scale":{"domain":[-1,4],"range":[226,16],"nice":false,"zero":false},"axis":{"orient":"left","offset":-473,"title":null,"values":[-1,0,1,2,3,4],"format":"d"}}},
  "layer":[
   {"data":{"name":"bt"},"transform":[{"filter":"datum.s!='b64'"}],"mark":{"type":"line","strokeWidth":2.6},"encoding":{"detail":{"field":"s"},"order":{"value":null}}},
   {"data":{"name":"bt"},"transform":[{"filter":"datum.s=='b64'"}],"mark":{"type":"line","interpolate":"linear","strokeWidth":2.6},"encoding":{"order":{"value":null}}},
   {"data":{"values":[{"x":0.44,"y":0.04,"x2":0.52,"y2":0.24}]},"mark":"rule","encoding":{"x2":{"field":"x2"},"y2":{"field":"y2"}}},
   {"data":{"values":[{"x":0.565,"y":2.53,"t":"β=7"},{"x":0.26,"y":1.19,"t":"β=3"},{"x":0.52,"y":-0.3,"t":"β=64"}]},"mark":"text","encoding":{"text":{"field":"t"}}},
   {"data":{"values":[{"x":1.01,"y":3.83,"t":"б"}]},"mark":{"type":"text","fontSize":24},"encoding":{"text":{"field":"t"}}},
   {"data":{"values":[{"x":-0.5,"y":-1.5,"t":"ξ₁c·10²"}]},"mark":{"type":"text","fontSize":22,"angle":270},"encoding":{"text":{"field":"t"}}}
  ]},
 {"encoding":{
   "x":{"field":"x","type":"quantitative","scale":{"domain":[0,2],"range":[473,686],"nice":false,"zero":false},"axis":{"orient":"bottom","offset":-1169,"title":null,"values":[0,0.4,0.8,1.2,1.6,2],"labelExpr":"datum.value==0?'0':datum.value==0.4?'0.4':datum.value==1.2?'1.2':datum.value==2?'τ':''"}},
   "y":{"field":"y","type":"quantitative","scale":{"domain":[0,-10],"range":[489,275],"nice":false,"zero":false},"axis":{"orient":"left","offset":-473,"title":null,"values":[-10,-8,-6,-4,-2],"format":"d"}}},
  "layer":[
   {"data":{"name":"bb"},"transform":[{"filter":"datum.s!='g64'"}],"mark":{"type":"line","strokeWidth":2.6},"encoding":{"detail":{"field":"s"},"order":{"value":null}}},
   {"data":{"name":"bb"},"transform":[{"filter":"datum.s=='g64'"}],"mark":{"type":"line","interpolate":"linear","strokeWidth":2.6},"encoding":{"order":{"value":null}}},
   {"data":{"values":[{"x":1.35,"y":-9.81,"x2":1.39,"y2":-9.43},{"x":1.45,"y":-6.09,"x2":1.41,"y2":-5.62}]},"mark":"rule","encoding":{"x2":{"field":"x2"},"y2":{"field":"y2"}}},
   {"data":{"values":[{"x":1.42,"y":-10.28,"t":"β=64"},{"x":1.42,"y":-6.71,"t":"β=7"},{"x":1.41,"y":-2.98,"t":"β=3"}]},"mark":"text","encoding":{"text":{"field":"t"}}}
  ]},
 {"encoding":{
   "x":{"field":"x","type":"quantitative","scale":{"domain":[-1,5],"range":[762,1059],"nice":false,"zero":false},"axis":{"orient":"bottom","offset":-1196,"title":null,"values":[-1,0,1,2,3,4,5],"labelExpr":"datum.value==5?'':format(datum.value,'d')"}},
   "y":{"field":"y","type":"quantitative","scale":{"domain":[-10,14],"range":[462,159],"nice":false,"zero":false},"axis":{"orient":"left","offset":-762,"title":null,"values":[-10,-6,-2,2,6,10,14],"labelExpr":"datum.value==14?'':format(datum.value,'d')"}}},
  "layer":[
   {"data":{"name":"v"},"mark":"line","encoding":{"detail":{"field":"s"},"order":{"value":null}}},
   {"data":{"values":[{"x":0.4,"y":10.34,"x2":0.51,"y2":10.16},{"x":0.37,"y":7.09,"x2":0.47,"y2":6.9},{"x":0.27,"y":4.65,"x2":0.44,"y2":3.59},{"x":0.27,"y":1.87,"x2":0.37,"y2":1.07},{"x":-0.1,"y":-1.71,"x2":0,"y2":-2.11},{"x":0.07,"y":-7.93,"x2":-0.54,"y2":-6.74},{"x":0.94,"y":-0.38,"x2":0.81,"y2":-1.18},{"x":3.7,"y":9.15,"x2":2.59,"y2":7.17},{"x":4.3,"y":-1.3,"x2":3.3,"y2":1.21},{"x":4.0,"y":-3.9,"x2":3.2,"y2":-2.5},{"x":3.5,"y":-5.68,"x2":3.27,"y2":-5.02}]},"mark":"rule","encoding":{"x2":{"field":"x2"},"y2":{"field":"y2"}}},
   {"data":{"values":[{"x":-0.03,"y":14.05,"t":"β=4"},{"x":-0.07,"y":10.34,"t":"β=16"},{"x":-0.17,"y":7.03,"t":"β=32"},{"x":-0.2,"y":4.65,"t":"β=64"},{"x":-0.27,"y":1.6,"t":"β=128"},{"x":-0.34,"y":-0.52,"t":"β=256"},{"x":0.88,"y":-8.33,"t":"β=1000"},{"x":1.21,"y":0.15,"t":"τ=1"},{"x":4.24,"y":9.28,"t":"τ=0.5"},{"x":4.68,"y":-2.35,"t":"τ=0.33"},{"x":4.42,"y":-4.05,"t":"τ=0.25"},{"x":3.5,"y":-6.34,"t":"τ=0"}]},"mark":"text","encoding":{"text":{"field":"t"}}},
   {"data":{"values":[{"x":2.09,"y":15.4,"t":"в"},{"x":1.83,"y":-13.2,"t":"ξ₁c·10²"}]},"mark":{"type":"text","fontSize":22},"encoding":{"text":{"field":"t"}}},
   {"data":{"values":[{"x":-2.02,"y":0.03,"t":"ξ₂c·10²"}]},"mark":{"type":"text","fontSize":22,"angle":270},"encoding":{"text":{"field":"t"}}}
  ]},
 {"encoding":{
   "x":{"field":"x","type":"quantitative","scale":{"domain":[-1,5],"range":[161,483],"nice":false,"zero":false},"axis":{"orient":"bottom","offset":-615,"title":null,"values":[-1,0,1,2,3,4,5],"labelExpr":"datum.value==5?'':format(datum.value,'d')"}},
   "y":{"field":"y","type":"quantitative","scale":{"domain":[-10,14],"range":[1043,721],"nice":false,"zero":false},"axis":{"orient":"left","offset":-161,"title":null,"values":[-10,-6,-2,2,6,10,14],"format":"d"}}},
  "layer":[
   {"data":{"name":"g"},"mark":"line","encoding":{"detail":{"field":"s"},"order":{"value":null}}},
   {"data":{"values":[{"x":0.53,"y":10.38,"x2":0.68,"y2":10},{"x":0.53,"y":7.15,"x2":0.65,"y2":6.9},{"x":0.4,"y":3.55,"x2":0.53,"y2":3.43},{"x":0.16,"y":0.45,"x2":0.34,"y2":0.2},{"x":-0.31,"y":-7.24,"x2":-0.19,"y2":-6.74},{"x":0.96,"y":1.57,"x2":0.87,"y2":1.32},{"x":2.58,"y":3.06,"x2":2.67,"y2":3.31},{"x":4.01,"y":-2.53,"x2":3.7,"y2":-3.52},{"x":3.51,"y":-4.01,"x2":3.2,"y2":-2.15},{"x":2.95,"y":-6.37,"x2":2.45,"y2":-2.4}]},"mark":"rule","encoding":{"x2":{"field":"x2"},"y2":{"field":"y2"}}},
   {"data":{"values":[{"x":-0.31,"y":13.48,"t":"β=16"},{"x":-0.03,"y":10.25,"t":"β=128"},{"x":-0.09,"y":7.15,"t":"β=256"},{"x":-0.16,"y":3.55,"t":"β=500"},{"x":-0.31,"y":0.58,"t":"β=1000"},{"x":-0.09,"y":-8.11,"t":"β=4000"},{"x":1.27,"y":2.19,"t":"τ=1"},{"x":2.83,"y":2.19,"t":"τ=0.5"},{"x":4.16,"y":-3.77,"t":"τ=0"},{"x":3.91,"y":-5.63,"t":"τ=0.25"},{"x":3.14,"y":-7.24,"t":"τ=0.33"}]},"mark":"text","encoding":{"text":{"field":"t"}}},
   {"data":{"values":[{"x":1.83,"y":15.09,"t":"г"},{"x":1.83,"y":-13.5,"t":"ξ₁c 10²"}]},"mark":{"type":"text","fontSize":22},"encoding":{"text":{"field":"t"}}},
   {"data":{"values":[{"x":-1.96,"y":2.19,"t":"ξ₂c·10²"}]},"mark":{"type":"text","fontSize":22,"angle":270},"encoding":{"text":{"field":"t"}}}
  ]},
 {"encoding":{
   "x":{"field":"x","type":"quantitative","scale":{"domain":[0,5],"range":[669,953],"nice":false,"zero":false},"axis":{"orient":"bottom","offset":-619,"title":null,"values":[0,1,2,3,4,5],"format":"d"}},
   "y":{"field":"y","type":"quantitative","scale":{"domain":[-7,9],"range":[1039,565],"nice":false,"zero":false},"axis":{"orient":"left","offset":-669,"title":null,"values":[-7,-5,-3,-1,1,3,5,7,9],"labelExpr":"datum.value==9?'':format(datum.value,'d')"}}},
  "layer":[
   {"data":{"name":"d"},"mark":"line","encoding":{"detail":{"field":"s"},"order":{"value":null}}},
   {"data":{"values":[{"x":0.35,"y":8.09,"x2":0.15,"y2":8.58},{"x":1.25,"y":6.94,"x2":1.34,"y2":7.79},{"x":1.52,"y":4.94,"x2":1.95,"y2":5.67},{"x":1.63,"y":3.54,"x2":1.95,"y2":3.06},{"x":1.46,"y":0.81,"x2":1.95,"y2":0.33},{"x":1.08,"y":-0.28,"x2":1.46,"y2":-0.65},{"x":1.17,"y":-1.62,"x2":2.01,"y2":-1.68},{"x":1.11,"y":-3.19,"x2":1.37,"y2":-3.56},{"x":4.25,"y":-0.46,"x2":2.86,"y2":-1.74},{"x":4.1,"y":-2.0,"x2":4.05,"y2":-2.25},{"x":3.76,"y":-3.56,"x2":3.12,"y2":-4.04}]},"mark":"rule","encoding":{"x2":{"field":"x2"},"y2":{"field":"y2"}}},
   {"data":{"values":[{"x":0.3,"y":7.7,"t":"β=1"},{"x":0.7,"y":6.76,"t":"β=3"},{"x":1.05,"y":4.82,"t":"β=6"},{"x":0.99,"y":3.36,"t":"β=10"},{"x":0.93,"y":0.87,"t":"β=16"},{"x":0.52,"y":-0.28,"t":"θ̄₀=90°"},{"x":0.52,"y":-1.68,"t":"θ̄₀=45°"},{"x":0.52,"y":-3.25,"t":"β=32"},{"x":1.92,"y":-6.1,"t":"β=64"},{"x":4.92,"y":-0.28,"t":"θ̄₀=30°"},{"x":4.4,"y":-2.04,"t":"θ̄₀=0"},{"x":4.34,"y":-3.5,"t":"θ̄₀=15°"}]},"mark":"text","encoding":{"text":{"field":"t"}}},
   {"data":{"values":[{"x":2.36,"y":9.25,"t":"д"},{"x":2.04,"y":-8.3,"t":"ξ₁c 10²"}]},"mark":{"type":"text","fontSize":22},"encoding":{"text":{"field":"t"}}},
   {"data":{"values":[{"x":-0.87,"y":-0.4,"t":"ξ₂c·10²"}]},"mark":{"type":"text","fontSize":22,"angle":270},"encoding":{"text":{"field":"t"}}}
  ]},
 {"encoding":{
   "x":{"field":"x","type":"quantitative","scale":{"domain":[0,5],"range":[177,457],"nice":false,"zero":false},"axis":{"orient":"bottom","offset":-57,"title":null,"values":[0,1,2,3,4,5],"labelExpr":"datum.value==5?'':format(datum.value,'d')"}},
   "y":{"field":"y","type":"quantitative","scale":{"domain":[-7,9],"range":[1601,1131],"nice":false,"zero":false},"axis":{"orient":"left","offset":-177,"title":null,"values":[-7,-5,-3,-1,1,3,5,7,9],"labelExpr":"datum.value==9?'':format(datum.value,'d')"}}},
  "layer":[
   {"data":{"name":"e"},"mark":"line","encoding":{"detail":{"field":"s"},"order":{"value":null}}},
   {"data":{"values":[{"x":0.8,"y":7.83,"x2":1.07,"y2":8.3},{"x":0.77,"y":7.24,"x2":1.01,"y2":7.83},{"x":0.65,"y":5.05,"x2":1.36,"y2":6},{"x":0.62,"y":2.87,"x2":1.89,"y2":4.05},{"x":3.02,"y":5.35,"x2":2.96,"y2":5.64},{"x":2.75,"y":3.2,"x2":2.7,"y2":3.45},{"x":2.69,"y":1.1,"x2":2.63,"y2":1.28},{"x":1.9,"y":-0.61,"x2":1.83,"y2":-0.61},{"x":1.89,"y":-1.73,"x2":1.98,"y2":-1.43},{"x":1.07,"y":-3.5,"x2":1.3,"y2":-3.2},{"x":4.05,"y":-1.9,"x2":3.02,"y2":-1.79},{"x":3.88,"y":-3.73,"x2":3.64,"y2":-3.61}]},"mark":"rule","encoding":{"x2":{"field":"x2"},"y2":{"field":"y2"}}},
   {"data":{"values":[{"x":0.53,"y":7.94,"t":"β=1"},{"x":0.56,"y":6.76,"t":"β=3"},{"x":0.65,"y":4.88,"t":"θ̄₀=90°"},{"x":0.62,"y":2.75,"t":"θ̄₀=45°"},{"x":2.96,"y":4.94,"t":"β=6"},{"x":3.05,"y":2.81,"t":"β=10"},{"x":2.78,"y":0.63,"t":"β=16"},{"x":2.54,"y":-0.61,"t":"θ̄₀=30°"},{"x":1.89,"y":-2.2,"t":"β=32"},{"x":1.01,"y":-3.85,"t":"β=64"},{"x":4.64,"y":-1.96,"t":"θ̄₀=15°"},{"x":4.26,"y":-3.73,"t":"θ̄₀=0"}]},"mark":"text","encoding":{"text":{"field":"t"}}},
   {"data":{"values":[{"x":3.02,"y":8.0,"t":"е"},{"x":2.37,"y":-8.5,"t":"ξ₁c·10²"}]},"mark":{"type":"text","fontSize":22},"encoding":{"text":{"field":"t"}}},
   {"data":{"values":[{"x":-0.83,"y":1.22,"t":"ξ₂c·10²"}]},"mark":{"type":"text","fontSize":22,"angle":270},"encoding":{"text":{"field":"t"}}}
  ]},
 {"encoding":{
   "x":{"field":"x","type":"quantitative","scale":{"domain":[0,5],"range":[660,970],"nice":false,"zero":false},"axis":{"orient":"bottom","offset":-63,"title":null,"values":[0,1,2,3,4,5],"labelExpr":"datum.value==5?'':format(datum.value,'d')"}},
   "y":{"field":"y","type":"quantitative","scale":{"domain":[-10,14],"range":[1595,1205],"nice":false,"zero":false},"axis":{"orient":"left","offset":-660,"title":null,"values":[-10,-6,-2,2,6,10,14],"labelExpr":"datum.value==14?'':format(datum.value,'d')"}}},
  "layer":[
   {"data":{"name":"zh"},"mark":"line","encoding":{"detail":{"field":"s"},"order":{"value":null}}},
   {"data":{"values":[{"x":0.3,"y":13.75,"x2":0.32,"y2":13.34},{"x":1.0,"y":9.76,"x2":1.19,"y2":11.36},{"x":1.0,"y":7.83,"x2":1.32,"y2":9.07},{"x":0.92,"y":4.87,"x2":1.16,"y2":5.19},{"x":1.0,"y":2.92,"x2":1.64,"y2":4.26},{"x":3.75,"y":8.86,"x2":3.43,"y2":6.68},{"x":4.62,"y":5.49,"x2":3.76,"y2":3.74},{"x":2.93,"y":4.06,"x2":2.9,"y2":3.33},{"x":1.96,"y":-1.49,"x2":1.86,"y2":-2.1},{"x":3.14,"y":-5.79,"x2":3.38,"y2":-1.28},{"x":3.89,"y":-4.25,"x2":3.81,"y2":-3.03},{"x":1.48,"y":-6.87,"x2":1.64,"y2":-6.15}]},"mark":"rule","encoding":{"x2":{"field":"x2"},"y2":{"field":"y2"}}},
   {"data":{"values":[{"x":0.62,"y":14.48,"t":"β=4"},{"x":0.46,"y":9.8,"t":"β=16"},{"x":0.49,"y":7.62,"t":"β=32"},{"x":0.46,"y":5.23,"t":"θ̄₀=90°"},{"x":0.43,"y":3.15,"t":"θ̄₀=45°"},{"x":3.86,"y":9.59,"t":"β=64"},{"x":4.72,"y":6.47,"t":"θ̄₀=15°"},{"x":3.06,"y":4.87,"t":"β=128"},{"x":2.69,"y":1.9,"t":"θ̄₀=30°"},{"x":2.1,"y":-0.67,"t":"β=500"},{"x":3.28,"y":-6.51,"t":"β=256"},{"x":3.87,"y":-4.52,"t":"θ̄₀=0"},{"x":1.29,"y":-8.3,"t":"β=1000"}]},"mark":"text","encoding":{"text":{"field":"t"}}},
   {"data":{"values":[{"x":2.4,"y":14.06,"t":"ж"},{"x":2.45,"y":-13.07,"t":"ξ₁c·10²"}]},"mark":{"type":"text","fontSize":22},"encoding":{"text":{"field":"t"}}},
   {"data":{"values":[{"x":-0.89,"y":3.15,"t":"ξ₂c·10²"}]},"mark":{"type":"text","fontSize":22,"angle":270},"encoding":{"text":{"field":"t"}}}
  ]}
]
}
